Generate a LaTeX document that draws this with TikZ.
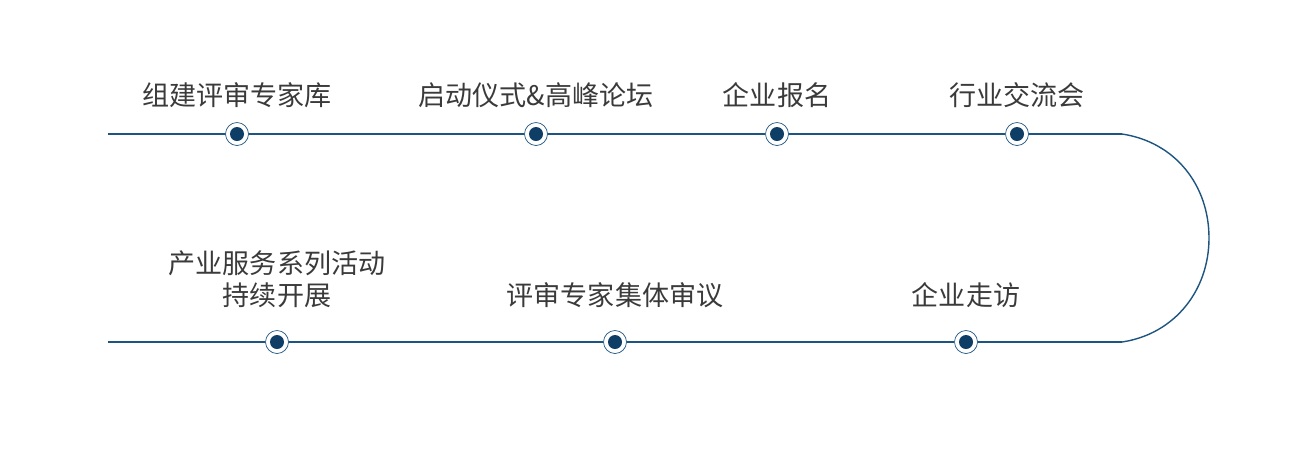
\documentclass[tikz,border=0pt]{standalone}
\usepackage{fontspec}
\newfontfamily\cjk{Noto Sans CJK SC}
\usetikzlibrary{positioning}
\definecolor{lineblue}{HTML}{1D5580}
\definecolor{dotblue}{HTML}{0E3D66}
\definecolor{labelgray}{HTML}{3A3A3A}
\begin{document}
\begin{tikzpicture}[x=0.02cm, y=-0.02cm,
		ring/.style={circle, draw=lineblue, fill=white, thin, minimum size=0.46cm, inner sep=0pt},
		label/.style={text=labelgray, font=\cjk\fontsize{15.4}{18}\selectfont, align=center, inner sep=0pt}]
	\useasboundingbox (0,0) rectangle (1315,451);
	% upper row
	\coordinate (ts) at (108,134);
	\coordinate (te) at (1122,134);
	\foreach \x/\t [count=\i] in {237/组建评审专家库, 536/启动仪式\&高峰论坛, 777/企业报名, 1017/行业交流会} {
		\node[ring] (t\i) at (\x,134) {};
		\fill[dotblue] (t\i) circle (0.14cm);
		\node[label, above=0.28cm of t\i] (tl\i) {\t};
	}
	% lower row
	\coordinate (bs) at (108,342);
	\coordinate (be) at (1122,342);
	\foreach \x/\t [count=\i] in {277/{产业服务系列活动\\持续开展}, 615/评审专家集体审议, 966/企业走访} {
		\node[ring] (b\i) at (\x,342) {};
		\fill[dotblue] (b\i) circle (0.14cm);
		\node[label, above=0.44cm of b\i] (bl\i) {\t};
	}
	\draw[lineblue, thick] (ts) -- (t1) (t1) -- (t2) (t2) -- (t3) (t3) -- (t4) (t4) -- (te);
	\draw[lineblue, thick] (bs) -- (b1) (b1) -- (b2) (b2) -- (b3) (b3) -- (be);
	% bend
	\draw[lineblue, thick] (te) .. controls (1175,142) and (1209,185) .. (1209,238)
		.. controls (1209,290) and (1175,334) .. (be);
\end{tikzpicture}
\end{document}
